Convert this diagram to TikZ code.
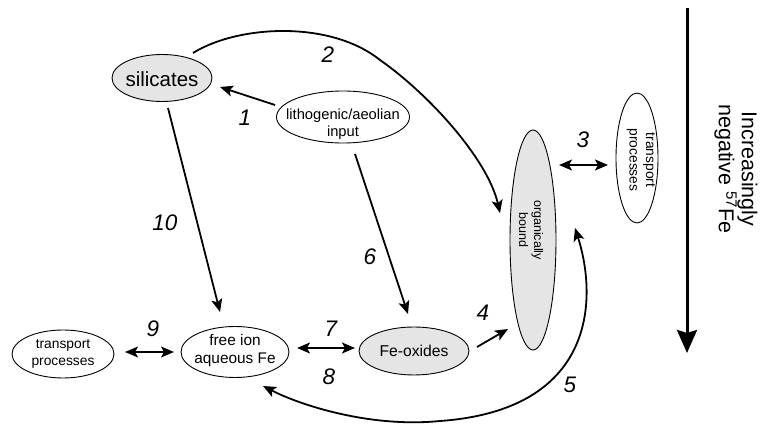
\documentclass[tikz,border=0pt]{standalone}
\usepackage{fontspec}
\setmainfont{Liberation Sans}
\usepackage{graphicx}
\usetikzlibrary{arrows.meta,shapes.geometric}
\definecolor{fillg}{gray}{0.9}
\begin{document}
\begin{tikzpicture}[x=1pt,y=-1pt,
  ell/.style={ellipse, draw, line width=0.9pt, inner sep=0pt},
  shaded/.style={fill=fillg},
  txt/.style={inner sep=0pt, align=center},
  arr/.style={-{Stealth[length=13pt,width=11pt,inset=3pt]}, line width=1.8pt},
  darr/.style={{Stealth[length=13pt,width=11pt,inset=3pt]}-{Stealth[length=13pt,width=11pt,inset=3pt]}, line width=1.8pt},
  num/.style={font=\fontsize{22.5}{26}\selectfont\itshape, inner sep=0pt},
]
\useasboundingbox (0,0) rectangle (764,427);

% nodes
\node[ell, shaded, minimum width=100pt, minimum height=47pt] (sil) at (162,78) {};
\node[txt, font=\fontsize{20.5}{24}\selectfont] (silT) at (162,79) {silicates};

\node[ell, minimum width=133pt, minimum height=52pt] (lith) at (343,117) {};
\node[txt, font=\fontsize{14.7}{17}\selectfont] (lithT) at (343,124) {lithogenic/aeolian\\input};

\node[ell, shaded, minimum width=46pt, minimum height=220pt] (org) at (533,240) {};
\node[txt, rotate=-90, font=\fontsize{12.5}{15}\selectfont] (orgT) at (531,230) {organically\\bound};

\node[ell, minimum width=42pt, minimum height=130pt] (tr2) at (637,158) {};
\node[txt, rotate=-90, font=\fontsize{13.8}{16.5}\selectfont] (tr2T) at (641,160) {transport\\processes};

\node[ell, minimum width=102pt, minimum height=48pt] (tr1) at (63,354) {};
\node[txt, font=\fontsize{13.8}{16.5}\selectfont] (tr1T) at (63,354) {transport\\processes};

\node[ell, minimum width=108pt, minimum height=51pt] (fi) at (235,352) {};
\node[txt, font=\fontsize{15.4}{18}\selectfont] (fiT) at (235,351) {free ion\\aqueous Fe};

\node[ell, shaded, minimum width=110pt, minimum height=48pt] (fo) at (414,351) {};
\node[txt, font=\fontsize{15.7}{18}\selectfont] (foT) at (414,351) {Fe-oxides};

\node[txt, rotate=-90, font=\fontsize{21.5}{23}\selectfont] (bigT) at (736,169) {Increasingly\\negative \textsuperscript{57}Fe};

% connectors
\draw[arr] ([shift={(-68,-12)}]lith.center) -- ([shift={(58,9)}]sil.center);
\draw[arr] ([shift={(31,-25)}]sil.center) .. controls (238,25) and (330,20) .. (380,60)
   .. controls (430,95) and (488,160) .. ([shift={(-33,-27)}]org.center);
\draw[darr] ([shift={(26,-75)}]org.center) -- ([shift={(-29,7)}]tr2.center);
\draw[arr] ([shift={(63,-4)}]fo.center) -- ([shift={(-25,89)}]org.center);
\draw[darr] ([shift={(42,-12)}]org.center) .. controls (598,300) and (595,410) .. (440,421)
   .. controls (370,428) and (300,405) .. ([shift={(28,34)}]fi.center);
\draw[arr] ([shift={(12,37)}]lith.center) -- ([shift={(-6,-37)}]fo.center);
\draw[darr] ([shift={(62,-4)}]fi.center) -- ([shift={(-59,-3)}]fo.center);
\draw[darr] ([shift={(62,-2)}]tr1.center) -- ([shift={(-61,0)}]fi.center);
\draw[arr] ([shift={(6,30)}]sil.center) -- ([shift={(-15,-40)}]fi.center);

\coordinate (bigS) at (687,8);
\coordinate (bigE) at (687,353);
\draw[line width=3pt, -{Stealth[length=23pt,width=20pt,inset=3pt]}] (bigS) -- (bigE);

% labels
\node[num] (n1) at (245,118) {1};
\node[num] (n2) at (328,55) {2};
\node[num] (n3) at (583,140) {3};
\node[num] (n4) at (483,313) {4};
\node[num] (n5) at (570,385) {5};
\node[num] (n6) at (370,257) {6};
\node[num] (n7) at (331,329) {7};
\node[num] (n8) at (329,377) {8};
\node[num] (n9) at (153,329) {9};
\node[num] (n10) at (165,223) {10};
\end{tikzpicture}
\end{document}
